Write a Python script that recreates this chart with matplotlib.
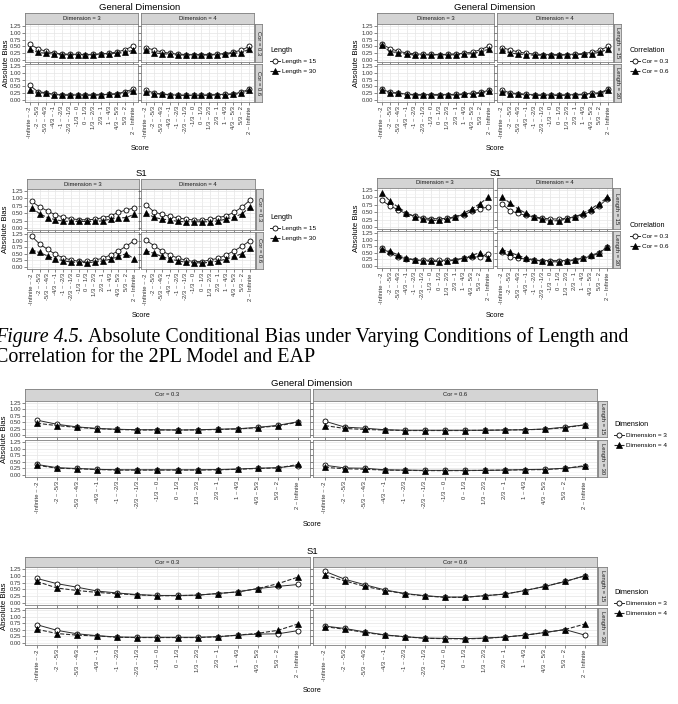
import numpy as np
import matplotlib.pyplot as plt
from matplotlib.lines import Line2D

# score bins on the x axis
cats = ["-Infinite ~ -2", "-2 ~ -5/3", "-5/3 ~ -4/3", "-4/3 ~ -1", "-1 ~ -2/3",
        "-2/3 ~ -1/3", "-1/3 ~ 0", "0 ~ 1/3", "1/3 ~ 2/3", "2/3 ~ 1",
        "1 ~ 4/3", "4/3 ~ 5/3", "5/3 ~ 2", "2 ~ Infinite"]

# General dimension: absolute bias (dimension, correlation, length)
gen_d3_c03_l15 = [0.58, 0.42, 0.32, 0.26, 0.23, 0.21, 0.21, 0.20, 0.21, 0.23, 0.25, 0.30, 0.38, 0.52]
gen_d4_c03_l15 = [0.46, 0.37, 0.30, 0.25, 0.22, 0.20, 0.20, 0.20, 0.20, 0.22, 0.24, 0.29, 0.36, 0.50]
gen_d3_c03_l30 = [0.40, 0.28, 0.25, 0.22, 0.20, 0.20, 0.20, 0.20, 0.20, 0.21, 0.23, 0.26, 0.28, 0.36]
gen_d4_c03_l30 = [0.37, 0.26, 0.24, 0.21, 0.19, 0.19, 0.19, 0.19, 0.19, 0.20, 0.22, 0.25, 0.27, 0.40]
gen_d3_c06_l15 = [0.54, 0.31, 0.27, 0.21, 0.19, 0.19, 0.19, 0.19, 0.19, 0.20, 0.21, 0.24, 0.31, 0.40]
gen_d4_c06_l15 = [0.37, 0.26, 0.22, 0.20, 0.18, 0.18, 0.18, 0.18, 0.19, 0.20, 0.21, 0.23, 0.29, 0.40]
gen_d3_c06_l30 = [0.37, 0.27, 0.26, 0.20, 0.19, 0.18, 0.18, 0.18, 0.18, 0.19, 0.21, 0.22, 0.26, 0.33]
gen_d4_c06_l30 = [0.29, 0.24, 0.22, 0.19, 0.18, 0.17, 0.17, 0.17, 0.18, 0.19, 0.20, 0.21, 0.25, 0.36]

# S1: absolute bias (dimension, correlation, length)
s1_d3_c03_l15 = [0.90, 0.71, 0.58, 0.44, 0.37, 0.31, 0.28, 0.28, 0.29, 0.35, 0.41, 0.53, 0.61, 0.68]
s1_d4_c03_l15 = [0.79, 0.55, 0.46, 0.39, 0.34, 0.30, 0.27, 0.27, 0.29, 0.35, 0.41, 0.53, 0.71, 0.95]
s1_d3_c03_l30 = [0.69, 0.48, 0.35, 0.28, 0.23, 0.22, 0.22, 0.22, 0.22, 0.24, 0.30, 0.34, 0.35, 0.47]
s1_d4_c03_l30 = [0.52, 0.36, 0.30, 0.27, 0.22, 0.21, 0.21, 0.21, 0.21, 0.24, 0.30, 0.37, 0.48, 0.72]
s1_d3_c06_l15 = [1.16, 0.87, 0.67, 0.48, 0.35, 0.27, 0.22, 0.22, 0.27, 0.33, 0.46, 0.61, 0.79, 1.00]
s1_d4_c06_l15 = [1.02, 0.81, 0.61, 0.46, 0.34, 0.26, 0.21, 0.21, 0.27, 0.33, 0.46, 0.61, 0.79, 1.00]
s1_d3_c06_l30 = [0.64, 0.55, 0.42, 0.31, 0.24, 0.19, 0.18, 0.17, 0.19, 0.23, 0.30, 0.40, 0.51, 0.30]
s1_d4_c06_l30 = [0.62, 0.52, 0.40, 0.30, 0.24, 0.18, 0.17, 0.16, 0.18, 0.23, 0.30, 0.40, 0.51, 0.72]

gen = {(3, 0.3, 15): gen_d3_c03_l15, (4, 0.3, 15): gen_d4_c03_l15,
       (3, 0.3, 30): gen_d3_c03_l30, (4, 0.3, 30): gen_d4_c03_l30,
       (3, 0.6, 15): gen_d3_c06_l15, (4, 0.6, 15): gen_d4_c06_l15,
       (3, 0.6, 30): gen_d3_c06_l30, (4, 0.6, 30): gen_d4_c06_l30}
s1 = {(3, 0.3, 15): s1_d3_c03_l15, (4, 0.3, 15): s1_d4_c03_l15,
      (3, 0.3, 30): s1_d3_c03_l30, (4, 0.3, 30): s1_d4_c03_l30,
      (3, 0.6, 15): s1_d3_c06_l15, (4, 0.6, 15): s1_d4_c06_l15,
      (3, 0.6, 30): s1_d3_c06_l30, (4, 0.6, 30): s1_d4_c06_l30}

dims = [3, 4]
cors = [0.3, 0.6]
lens = [15, 30]

W, H = 678, 704
SANS = 'Liberation Sans'
plt.rcParams['font.family'] = [SANS, 'DejaVu Sans']
fig = plt.figure(figsize=(W / 100, H / 100), dpi=100)

LINE = '#2b2b2b'
style_a = dict(ls='-', color=LINE, lw=0.7, marker='o', ms=3.6, mfc='white', mec='black', mew=0.6)
style_b = dict(ls='--', color=LINE, lw=0.8, marker='^', ms=4.6, mfc='black', mec='black', mew=0.5)


def add_ax(x0, y0, x1, y1):
    return fig.add_axes([x0 / W, 1 - y1 / H, (x1 - x0) / W, (y1 - y0) / H])


def strip(x0, y0, x1, y1, label, rot=0):
    ax = add_ax(x0, y0, x1, y1)
    ax.set_facecolor('#D4D4D4')
    ax.set_xticks([])
    ax.set_yticks([])
    for s in ax.spines.values():
        s.set_color('#7F7F7F')
        s.set_linewidth(0.6)
    ax.text(0.5, 0.5, label, rotation=rot, ha='center', va='center',
            fontsize=4.2, color='#1a1a1a', transform=ax.transAxes)


def draw_group(cols, rows, strip_top, rstrip, col_labels, row_labels, get,
               title, title_xy, score_xy, ylab_xy, leg_xy, leg_title, leg_labels):
    for c, (cx0, cx1) in enumerate(cols):
        strip(cx0, strip_top, cx1, rows[0][0], col_labels[c])
    for r, (ry0, ry1) in enumerate(rows):
        strip(rstrip[0], ry0, rstrip[1], ry1, row_labels[r], rot=-90)
        for c, (cx0, cx1) in enumerate(cols):
            ax = add_ax(cx0, ry0, cx1, ry1)
            a, b = get(r, c)
            ax.plot(cats, a, **style_a, zorder=3)
            ax.plot(cats, b, **style_b, zorder=4)
            ax.set_xlim(-0.6, len(cats) - 0.4)
            ax.set_ylim(-0.07, 1.32)
            ax.set_yticks([0, 0.25, 0.5, 0.75, 1.0, 1.25])
            ax.set_yticks([0.125, 0.375, 0.625, 0.875, 1.125], minor=True)
            ax.grid(True, which='major', color='#E5E5E5', lw=0.5, zorder=0)
            ax.grid(True, which='minor', axis='y', color='#F3F3F3', lw=0.4, zorder=0)
            ax.set_axisbelow(True)
            for s in ax.spines.values():
                s.set_color('#7F7F7F')
                s.set_linewidth(0.6)
            ax.tick_params(which='major', length=2, width=0.5, color='#555555',
                           labelsize=4.2, labelcolor='#333333', pad=1)
            ax.tick_params(which='minor', length=0)
            if c == 0:
                ax.set_yticklabels(['0.00', '0.25', '0.50', '0.75', '1.00', '1.25'])
            else:
                ax.tick_params(axis='y', labelleft=False)
            if r == len(rows) - 1:
                ax.tick_params(axis='x', labelrotation=90)
            else:
                ax.tick_params(axis='x', labelbottom=False)
    fig.text(title_xy[0] / W, 1 - title_xy[1] / H, title, ha='center', va='center',
             fontsize=6.8, color='black')
    fig.text(score_xy[0] / W, 1 - score_xy[1] / H, 'Score', ha='center', va='center',
             fontsize=5.2, color='black')
    fig.text(ylab_xy[0] / W, 1 - ylab_xy[1] / H, 'Absolute Bias', ha='center', va='center',
             rotation=90, fontsize=5.6, color='black')
    h1 = Line2D([], [], **style_a)
    h2 = Line2D([], [], **style_b)
    leg = fig.legend([h1, h2], leg_labels, title=leg_title, loc='upper left',
                     bbox_to_anchor=(leg_xy[0] / W, 1 - leg_xy[1] / H), frameon=False,
                     fontsize=4.6, title_fontsize=5.2, handlelength=1.6, handletextpad=0.3,
                     labelspacing=0.7, borderpad=0, borderaxespad=0)
    leg._legend_box.align = 'left'


dim_labels = ['Dimension = 3', 'Dimension = 4']
cor_labels = ['Cor = 0.3', 'Cor = 0.6']
len_labels = ['Length = 15', 'Length = 30']

# top-left: General, columns dimension, rows correlation, series length
draw_group([(25, 138), (141, 254)], [(24, 62), (64, 102)], 13, (255, 262),
           dim_labels, cor_labels,
           lambda r, c: (gen[(dims[c], cors[r], 15)], gen[(dims[c], cors[r], 30)]),
           'General Dimension', (140, 7), (140, 148), (7, 63), (270, 47),
           'Length', len_labels)

# top-right: General, columns dimension, rows length, series correlation
draw_group([(377, 494), (497, 613)], [(24, 62), (64, 102)], 13, (614, 621),
           dim_labels, len_labels,
           lambda r, c: (gen[(dims[c], 0.3, lens[r])], gen[(dims[c], 0.6, lens[r])]),
           'General Dimension', (495, 7), (495, 148), (357, 63), (630, 47),
           'Correlation', cor_labels)

# second row left: S1, columns dimension, rows correlation, series length
draw_group([(27, 139), (141, 255)], [(189, 230), (232, 269)], 179, (256, 263),
           dim_labels, cor_labels,
           lambda r, c: (s1[(dims[c], cors[r], 15)], s1[(dims[c], cors[r], 30)]),
           'S1', (141, 174), (141, 315), (6, 229), (270, 214),
           'Length', len_labels)

# second row right: S1, columns dimension, rows length, series correlation
draw_group([(377, 493), (497, 612)], [(188, 229), (231, 268)], 178, (613, 620),
           dim_labels, len_labels,
           lambda r, c: (s1[(dims[c], 0.3, lens[r])], s1[(dims[c], 0.6, lens[r])]),
           'S1', (495, 173), (495, 315), (357, 228), (630, 222),
           'Correlation', cor_labels)

# wide: General, columns correlation, rows length, series dimension
draw_group([(25, 310), (313, 597)], [(401, 437), (440, 477)], 389, (598, 607),
           cor_labels, len_labels,
           lambda r, c: (gen[(3, cors[c], lens[r])], gen[(4, cors[c], lens[r])]),
           'General Dimension', (312, 383), (312, 525), (5, 439), (614, 421),
           'Dimension', dim_labels)

# wide: S1, columns correlation, rows length, series dimension
draw_group([(25, 310), (313, 597)], [(567, 605), (608, 645)], 557, (598, 607),
           cor_labels, len_labels,
           lambda r, c: (s1[(3, cors[c], lens[r])], s1[(4, cors[c], lens[r])]),
           'S1', (312, 551), (312, 691), (5, 606), (614, 589),
           'Dimension', dim_labels)

# caption (left edge is cropped in the page scan)
SERIF = 'Liberation Serif'
CAP = 14.4
cap1 = fig.text(-5 / W, 1 - 337 / H, 'Figure 4.5.', style='italic', family=SERIF,
                fontsize=CAP, va='center', ha='left')
fig.canvas.draw()
bb = cap1.get_window_extent(renderer=fig.canvas.get_renderer())
fig.text((bb.x1 + 4) / W, 1 - 337 / H,
         'Absolute Conditional Bias under Varying Conditions of Length and',
         family=SERIF, fontsize=CAP, va='center', ha='left')
fig.text(-5 / W, 1 - 357 / H, 'Correlation for the 2PL Model and EAP',
         family=SERIF, fontsize=CAP, va='center', ha='left')

fig.savefig('out.png', dpi=100)
